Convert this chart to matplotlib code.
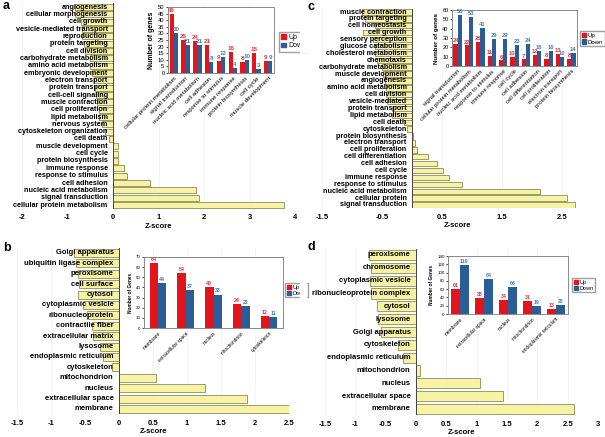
import numpy as np
import matplotlib
matplotlib.use('Agg')
import matplotlib.pyplot as plt
from matplotlib.patches import Rectangle, Patch

plt.rcParams['font.family'] = ['Liberation Sans', 'DejaVu Sans']

W, H = 605, 437

# ---- panel a: biological process, Z-scores
a_names = ['angiogenesis', 'cellular morphogenesis', 'cell growth', 'vesicle-mediated transport',
           'reproduction', 'protein targeting', 'cell division', 'carbohydrate metabolism',
           'amino acid metabolism', 'embryonic development', 'electron transport', 'protein transport',
           'cell-cell signaling', 'muscle contraction', 'cell proliferation', 'lipid metabolism',
           'nervous system', 'cytoskeleton organization', 'cell death', 'muscle development',
           'cell cycle', 'protein biosynthesis', 'immune response', 'response to stimulus',
           'cell adhesion', 'nucleic acid metabolism', 'signal transduction', 'cellular protein metabolism']
a_z = [-0.84, -0.84, -0.70, -0.68, -0.68, -0.64, -0.62, -0.51, -0.50, -0.46, -0.42, -0.40, -0.37, -0.36,
       -0.31, -0.31, -0.24, -0.17, -0.08, 0.11, 0.11, 0.11, 0.24, 0.31, 0.82, 1.83, 1.89, 3.75]
a_cats = ['cellular protein metabolism', 'signal transduction', 'nucleic acid metabolism', 'cell adhesion',
          'response to stimulus', 'immune response', 'protein biosynthesis', 'cell cycle', 'muscle development']
a_up = [45, 25, 24, 21, 9, 16, 8, 15, 9]
a_down = [30, 21, 21, 8, 12, 4, 10, 3, 9]

# ---- panel b: cellular component
b_names = ['Golgi apparatus', 'ubiquitin ligase complex', 'peroxisome', 'cell surface', 'cytosol',
           'cytoplasmic vesicle', 'ribonucleoprotein', 'contractile fiber', 'extracellular matrix',
           'lysosome', 'endoplasmic reticulum', 'cytoskeleton', 'mitochondrion', 'nucleus',
           'extracellular space', 'membrane']
b_z = [-0.66, -0.63, -0.60, -0.59, -0.60, -0.53, -0.47, -0.40, -0.38, -0.28, -0.24, -0.10,
       0.54, 1.26, 1.88, 2.52]
b_cats = ['membrane', 'extracellular space', 'nucleus', 'mitochondrion', 'cytoskeleton']
b_up = [64, 54, 40, 24, 12]
b_down = [44, 37, 33, 22, 11]

# ---- panel c
c_names = ['muscle contraction', 'protein targeting', 'cell homeostasis', 'cell growth', 'sensory perception',
           'glucose catabolism', 'cholesterol metabolism', 'chemotaxis', 'carbohydrate metabolism',
           'muscle development', 'angiogenesis', 'amino acid metabolism', 'cell division', 'vesicle-mediated',
           'protein transport', 'lipid metabolism', 'cell death', 'cytoskeleton', 'protein biosynthesis',
           'electron transport', 'cell proliferation', 'cell differentiation', 'cell adhesion', 'cell cycle',
           'immune response', 'response to stimulus', 'nucleic acid metabolism', 'cellular protein',
           'signal transduction']
c_z = [-0.83, -0.79, -0.62, -0.81, -0.65, -0.62, -0.62, -0.59, -0.50, -0.48, -0.45, -0.44, -0.44, -0.41,
       -0.34, -0.34, -0.13, -0.08, 0.02, 0.045, 0.09, 0.27, 0.42, 0.52, 0.62, 0.84, 2.14, 2.58, 2.72]
c_cats = ['signal transduction', 'cellular protein metabolism', 'nucleic acid metabolism',
          'response to stimulus', 'immune response', 'cell cycle', 'cell adhesion', 'cell differentiation',
          'cell proliferation', 'electron transport', 'protein biosynthesis']
c_up = [24, 22, 26, 11, 6, 10, 7, 12, 8, 13, 8]
c_down = [55, 53, 41, 29, 29, 23, 24, 16, 16, 10, 14]

# ---- panel d
d_names = ['peroxisome', 'chromosome', 'cytoplasmic vesicle', 'ribonucleoprotein complex', 'cytosol',
           'lysosome', 'Golgi apparatus', 'cytoskeleton', 'endoplasmic reticulum', 'mitochondrion',
           'nucleus', 'extracellular space', 'membrane']
d_z = [-0.77, -0.74, -0.75, -0.74, -0.64, -0.62, -0.58, -0.29, -0.22, 0.06, 1.05, 1.43, 2.6]
d_cats = ['membrane', 'extracellular space', 'nucleus', 'mitochondrion', 'endoplasmic reticulum']
d_up = [61, 38, 34, 31, 13]
d_down = [119, 84, 66, 19, 22]

RED = '#e3141b'
BLUE = '#2b5d97'
YEL = '#f7f3a4'

fig = plt.figure(figsize=(W / 100, H / 100), dpi=100)


def px_axes(x0, y0, x1, y1, **kw):
    return fig.add_axes([x0 / W, 1 - y1 / H, (x1 - x0) / W, (y1 - y0) / H], **kw)


def main_panel(names, z, xpx, xlim, ticks, rows, fs):
    n = len(names)
    sp = (rows[1] - rows[0]) / (n - 1)
    ax = px_axes(xpx[0], rows[0] - sp / 2, xpx[1], rows[1] + sp / 2)
    y = np.arange(n)
    ax.barh(y, z, height=0.78, color=YEL, edgecolor='#8e8c5c', lw=0.6, zorder=2)
    ax.axvline(0, color='#444444', lw=0.7, zorder=3)
    for i, name in enumerate(names):
        ax.annotate(name, (0, i), xytext=(-3.8, 0), textcoords='offset points', ha='right',
                    va='center', fontsize=fs, fontweight='bold', zorder=4)
    ax.set_xlim(*xlim)
    ax.set_ylim(n - 0.5, -0.5)
    ax.set_yticks([])
    ax.set_xticks(ticks)
    ax.set_xticklabels(['%g' % t for t in ticks], fontsize=5.5, fontweight='bold')
    ax.tick_params(length=0, pad=4)
    ax.grid(axis='x', color='#f0f0f0', lw=0.5, zorder=0)
    for s in ax.spines.values():
        s.set_visible(False)
    ax.set_xlabel('Z-score', fontsize=5.5, fontweight='bold', labelpad=1)
    return ax


def inset(cats, up, down, box, ymax, ystep, ylabel, width, fs_tick, fs_val, fs_lab, fs_ylab,
          leg_xy, fs_leg):
    ax = px_axes(*box)
    x = np.arange(len(cats))
    ax.bar(x - width / 2, up, width, color=RED, zorder=2)
    ax.bar(x + width / 2, down, width, color=BLUE, zorder=2)
    for xi, u, d in zip(x, up, down):
        ax.text(xi - width / 2, u + ymax * 0.015, str(u), ha='center', va='bottom',
                color='#e8333a', fontsize=fs_val, fontweight='bold')
        ax.text(xi + width / 2, d + ymax * 0.015, str(d), ha='center', va='bottom',
                color='#4a7bb8', fontsize=fs_val, fontweight='bold')
    ax.set_xlim(-0.5, len(cats) - 0.5)
    ax.set_ylim(0, ymax)
    ax.set_yticks(range(0, ymax + 1, ystep))
    ax.tick_params(axis='y', labelsize=fs_tick, length=1.5, width=0.5, pad=1)
    ax.set_xticks(x)
    ax.set_xticklabels(cats, rotation=45, ha='right', rotation_mode='anchor', fontsize=fs_lab)
    ax.tick_params(axis='x', length=0, pad=2)
    for s in ax.spines.values():
        s.set_color('#8a8a8a')
        s.set_linewidth(0.7)
    ax.set_ylabel(ylabel, fontsize=fs_ylab, fontweight='bold', labelpad=2)
    handles = [Patch(color=RED, label='Up'), Patch(color=BLUE, label='Down')]
    ax.legend(handles=handles, loc='upper left', bbox_to_anchor=(leg_xy[0] / W, 1 - leg_xy[1] / H),
              bbox_transform=fig.transFigure, fontsize=fs_leg, frameon=True, fancybox=False,
              edgecolor='#888888', borderpad=0.3, handlelength=0.7, handleheight=0.7,
              handletextpad=0.3, labelspacing=0.2, borderaxespad=0)
    return ax


main_panel(a_names, a_z, (22, 295), (-2, 4), [-2, -1, 0, 1, 2, 3, 4], (7, 205), 5.2)
main_panel(b_names, b_z, (17, 289), (-1.5, 2.5), [-1.5, -1, -0.5, 0, 0.5, 1, 1.5, 2, 2.5], (253, 409), 5.5)
main_panel(c_names, c_z, (322, 592), (-1.5, 3), [-1.5, -0.5, 0.5, 1.5, 2.5], (12, 205), 5.2)
main_panel(d_names, d_z, (325, 598), (-1.5, 3), [-1.5, -1, -0.5, 0, 0.5, 1, 1.5, 2, 2.5, 3], (255, 409), 5.5)

inset(a_cats, a_up, a_down, (168, 7, 274, 73), 50, 5, 'Number of genes', 0.36,
      4.2, 4.5, 4.3, 5, (279, 32), 5)
inset(c_cats, c_up, c_down, (452, 10, 577, 66), 60, 10, 'Number of genes', 0.37,
      4, 4.2, 4.2, 4.5, (580, 31), 4.4)
inset(b_cats, b_up, b_down, (144, 257, 283, 328), 70, 10, 'Number of Genes', 0.3,
      3.2, 3.8, 3.4, 3.4, (285, 283), 4)
inset(d_cats, d_up, d_down, (448, 256, 568, 314), 140, 20, 'Number of Genes', 0.37,
      3.2, 3.8, 3.4, 3.4, (572, 278), 4)

# legends of the left insets are cut off at the panel border in the original
fig.patches.append(Rectangle((300 / W, 1 - 52 / H), 10 / W, 22 / H, transform=fig.transFigure,
                             color='white', zorder=10))
fig.patches.append(Rectangle((300 / W, 1 - 301 / H), 6 / W, 20 / H, transform=fig.transFigure,
                             color='white', zorder=10))

for lab, (x, y) in zip('abcd', [(3, 6), (3, 248), (308, 7), (308, 247)]):
    fig.text(x / W, 1 - y / H, lab, fontsize=9, fontweight='bold', va='center', ha='left')

fig.savefig('out.png', dpi=100)
